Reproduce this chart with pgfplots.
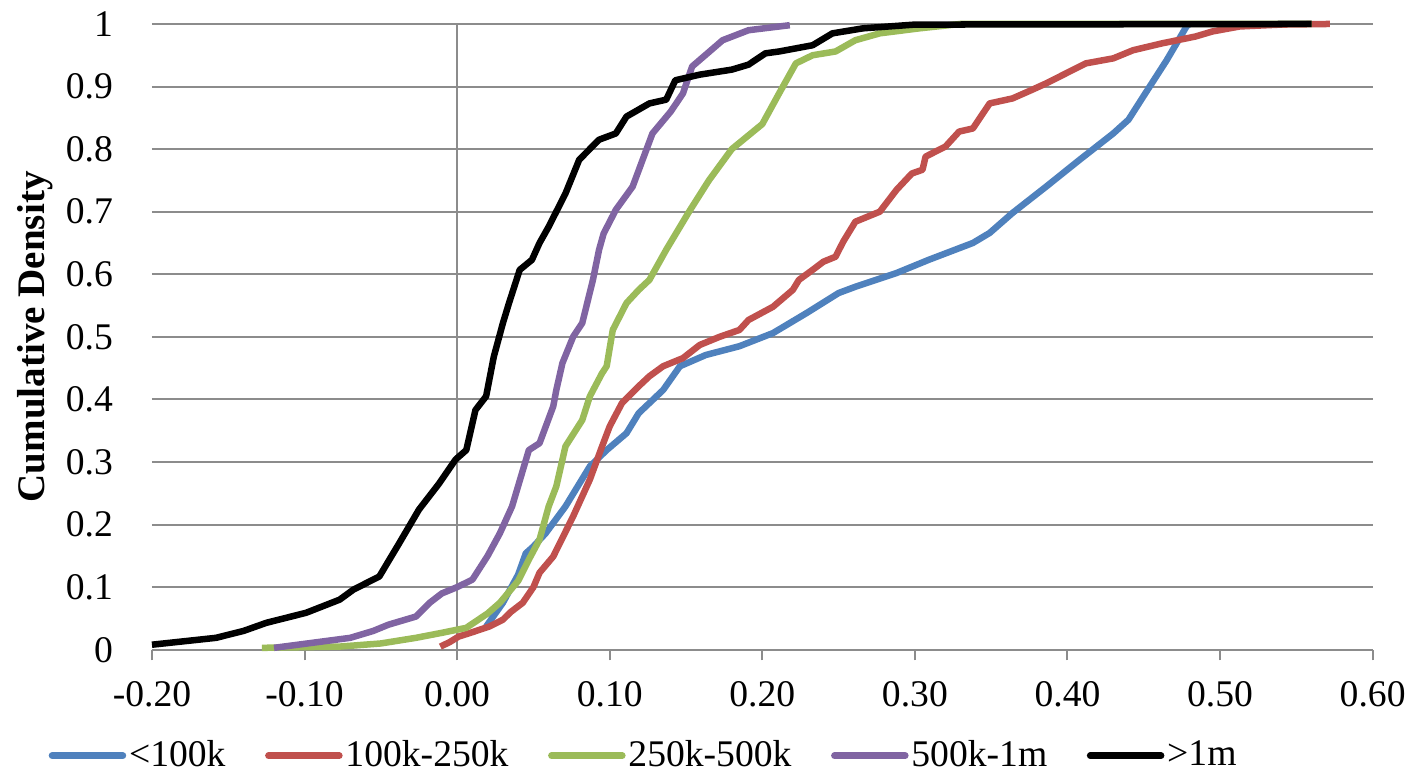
\documentclass[border=0pt]{standalone}
\usepackage{fontspec}
\setmainfont{Liberation Serif}
\usepackage{pgfplots}
\pgfplotsset{compat=1.18}

\definecolor{cblue}{HTML}{4F81BD}
\definecolor{cred}{HTML}{C0504D}
\definecolor{cgreen}{HTML}{9BBB59}
\definecolor{cpurple}{HTML}{8064A2}
\definecolor{gridgray}{HTML}{8C8C8C}

\newcommand{\lblfont}{\fontsize{13.3}{15}\selectfont}
\newcommand{\gap}{\hspace*{13pt}}

\begin{document}
\begin{tikzpicture}
\begin{axis}[
    scale only axis,
    width=431.5pt, height=221.2pt,
    xmin=-0.2, xmax=0.6, ymin=0, ymax=1,
    xtick={-0.2,-0.1,0,0.1,0.2,0.3,0.4,0.5,0.6},
    ytick={0,0.1,0.2,0.3,0.4,0.5,0.6,0.7,0.8,0.9,1},
    xticklabel style={/pgf/number format/fixed, /pgf/number format/fixed zerofill,
        /pgf/number format/precision=2},
    /pgf/number format/assume math mode=true,
    ticklabel style={font=\lblfont},
    yticklabel style={xshift=-6.5pt},
    xticklabel style={yshift=-4pt},
    axis line style={draw=none},
    ymajorgrids,
    grid style={gridgray, line width=0.7pt},
    xtick pos=left, ytick pos=left,
    tick align=outside,
    major tick length=3.8pt,
    xtick style={gridgray, line width=0.7pt},
    ytick style={draw=none},
    ylabel={\bfseries Cumulative Density},
    ylabel style={font=\fontsize{13.8}{15}\selectfont, at={(axis description cs:-0.0958,0.5)}, anchor=center},
    legend columns=5,
    legend style={draw=none, fill=none, font=\lblfont,
        at={(axis description cs:-0.092,-0.1693)}, anchor=west,
        nodes={inner sep=1pt},
        /tikz/every even column/.append style={column sep=0pt},
        /tikz/every odd column/.append style={column sep=0pt}},
    legend cell align=left,
    legend image code/.code={\draw[#1, line width=2.4pt, line cap=round] (1pt,0pt) -- (26pt,0pt);},
    every axis plot/.append style={line width=2.3pt, line join=round},
    clip=false,
]
\draw[gridgray, line width=0.7pt] (axis cs:0,0) -- (axis cs:0,1);

\addplot[cblue] coordinates {
(0.019,0.037) (0.030,0.075) (0.040,0.12) (0.045,0.154) (0.050,0.165) (0.058,0.186)
(0.071,0.229) (0.087,0.293) (0.098,0.319) (0.111,0.346) (0.119,0.378) (0.135,0.415)
(0.146,0.453) (0.163,0.471) (0.185,0.485) (0.207,0.506) (0.229,0.538) (0.250,0.570)
(0.261,0.580) (0.288,0.602) (0.309,0.623) (0.338,0.650) (0.349,0.666) (0.364,0.698)
(0.386,0.740) (0.408,0.783) (0.430,0.825) (0.440,0.847) (0.451,0.889) (0.465,0.942)
(0.478,0.996) (0.480,1.0)
};
\addlegendentry{<100k\gap}

\addplot[cred] coordinates {
(-0.011,0.005) (-0.005,0.012) (0.001,0.021) (0.010,0.028) (0.021,0.037) (0.030,0.048)
(0.035,0.06) (0.043,0.075) (0.050,0.10) (0.054,0.123) (0.063,0.149) (0.076,0.213)
(0.087,0.272) (0.095,0.325) (0.100,0.357) (0.108,0.394) (0.119,0.421) (0.126,0.437)
(0.135,0.453) (0.148,0.466) (0.159,0.487) (0.172,0.500) (0.185,0.511) (0.191,0.527)
(0.207,0.548) (0.220,0.575) (0.224,0.591) (0.233,0.607) (0.240,0.620) (0.248,0.628)
(0.253,0.652) (0.261,0.684) (0.277,0.700) (0.288,0.735) (0.298,0.761) (0.305,0.767)
(0.307,0.788) (0.320,0.804) (0.329,0.828) (0.338,0.833) (0.349,0.873) (0.364,0.881)
(0.377,0.895) (0.386,0.905) (0.399,0.921) (0.412,0.937) (0.430,0.945) (0.443,0.958)
(0.462,0.969) (0.484,0.980) (0.495,0.988) (0.513,0.996) (0.540,0.999) (0.572,1.0)
};
\addlegendentry{100k-250k\gap}

\addplot[cgreen] coordinates {
(-0.128,0.003) (-0.077,0.005) (-0.050,0.01) (-0.027,0.019) (-0.010,0.027) (0.006,0.035)
(0.020,0.058) (0.028,0.075) (0.040,0.11) (0.047,0.144) (0.054,0.176) (0.060,0.229)
(0.065,0.261) (0.071,0.325) (0.082,0.367) (0.087,0.405) (0.095,0.442) (0.098,0.453)
(0.102,0.511) (0.111,0.554) (0.119,0.575) (0.126,0.591) (0.137,0.639) (0.152,0.70)
(0.165,0.75) (0.180,0.80) (0.200,0.84) (0.211,0.889) (0.222,0.937) (0.233,0.950)
(0.248,0.956) (0.261,0.974) (0.277,0.985) (0.303,0.993) (0.330,1.0) (0.560,1.0)
};
\addlegendentry{250k-500k\gap}

\addplot[cpurple] coordinates {
(-0.120,0.003) (-0.070,0.019) (-0.055,0.03) (-0.045,0.04) (-0.027,0.053) (-0.018,0.075)
(-0.010,0.09) (0.000,0.10) (0.010,0.112) (0.020,0.15) (0.028,0.186) (0.036,0.229)
(0.047,0.319) (0.054,0.330) (0.063,0.389) (0.065,0.415) (0.069,0.458) (0.076,0.500)
(0.082,0.522) (0.089,0.591) (0.093,0.639) (0.096,0.665) (0.104,0.703) (0.115,0.74)
(0.128,0.825) (0.140,0.86) (0.148,0.889) (0.154,0.932) (0.174,0.974) (0.191,0.99)
(0.218,0.998)
};
\addlegendentry{500k-1m\gap}

\addplot[black] coordinates {
(-0.200,0.008) (-0.158,0.019) (-0.140,0.03) (-0.125,0.043) (-0.099,0.059) (-0.077,0.08)
(-0.068,0.096) (-0.051,0.117) (-0.038,0.17) (-0.025,0.224) (-0.012,0.265) (-0.001,0.304)
(0.006,0.319) (0.012,0.383) (0.019,0.405) (0.024,0.468) (0.030,0.522) (0.034,0.554)
(0.041,0.607) (0.049,0.623) (0.054,0.650) (0.060,0.676) (0.071,0.729) (0.080,0.783)
(0.093,0.815) (0.104,0.825) (0.111,0.852) (0.126,0.873) (0.137,0.879) (0.143,0.91)
(0.159,0.919) (0.180,0.927) (0.191,0.935) (0.202,0.953) (0.211,0.956) (0.233,0.966)
(0.246,0.985) (0.266,0.993) (0.300,0.999) (0.560,1.0)
};
\addlegendentry{>1m}

\coordinate (bbbl) at (rel axis cs:-0.1245,-0.1997);
\coordinate (bbtr) at (rel axis cs:1.0344,1.0383);
\end{axis}
\useasboundingbox (bbbl) rectangle (bbtr);
\end{tikzpicture}
\end{document}
